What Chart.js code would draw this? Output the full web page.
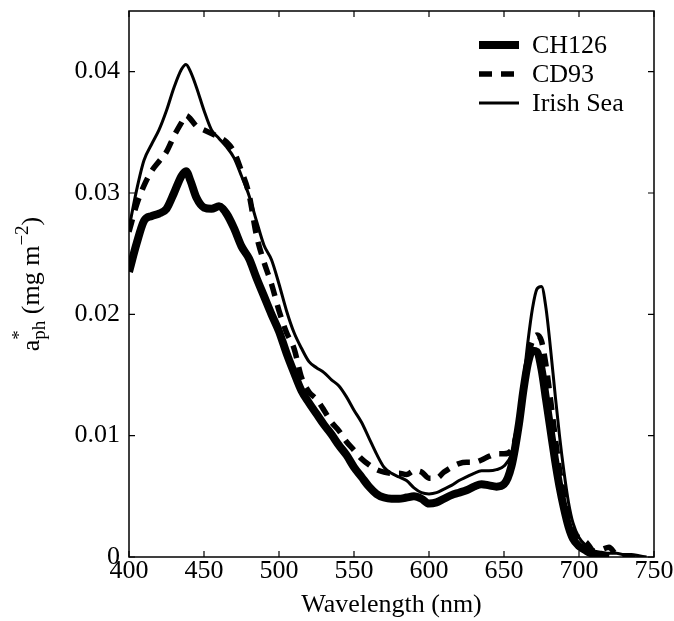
<!DOCTYPE html>
<html>
<head>
<meta charset="utf-8">
<script src="https://cdn.jsdelivr.net/npm/chart.js@4.4.1/dist/chart.umd.min.js"></script>
<style>
  html, body { margin: 0; padding: 0; background: #fff; }
</style>
</head>
<body>
<canvas id="myChart" width="674" height="621"></canvas>
<script>
// wavelength grid (nm) shared by the three spectra
const wavelengths = [400, 405, 410, 415, 420, 425, 430, 435, 438, 441, 445, 450, 455, 460, 465, 470, 475, 480, 485, 490,
    495, 500, 505, 510, 515, 520, 525, 530, 535, 540, 545, 550, 555, 560, 565, 570, 575, 580, 585, 590,
    595, 600, 605, 610, 615, 620, 625, 630, 635, 640, 645, 650, 655, 660, 663, 666, 669, 672, 675, 678,
    681, 684, 687, 690, 693, 696, 700, 705, 710, 715, 720, 725, 730, 735, 740, 745];

const ch126 = [0.0235, 0.0258, 0.0277, 0.0281, 0.0283, 0.0287, 0.0300, 0.0314, 0.0318, 0.0310, 0.0296, 0.0288, 0.0287, 0.0289, 0.0283, 0.0271, 0.0256, 0.0246, 0.0230, 0.0215,
    0.0200, 0.0186, 0.0168, 0.0152, 0.0137, 0.0127, 0.0118, 0.0109, 0.0101, 0.0092, 0.0084, 0.0074, 0.0066, 0.0058, 0.0052, 0.0049, 0.0048, 0.0048, 0.0049, 0.0050,
    0.0048, 0.0044, 0.0045, 0.0048, 0.0051, 0.0053, 0.0055, 0.0058, 0.0060, 0.0059, 0.0058, 0.0060, 0.0075, 0.0110, 0.0138, 0.0160, 0.0170, 0.0169, 0.0155, 0.0130,
    0.0105, 0.0080, 0.0058, 0.0040, 0.0025, 0.0015, 0.0009, 0.0005, 0.0002, 0.0001, 0.0, null, null, null, null, null];

const cd93 = [0.0268, 0.0290, 0.0306, 0.0318, 0.0326, 0.0334, 0.0347, 0.0358, 0.0364, 0.0361, 0.0355, 0.0352, 0.0349, 0.0346, 0.0342, 0.0334, 0.0318, 0.0299, 0.0265, 0.0243,
    0.0225, 0.0203, 0.0185, 0.0172, 0.0148, 0.0136, 0.0130, 0.0121, 0.0111, 0.0104, 0.0095, 0.0088, 0.0081, 0.0076, 0.0072, 0.0070, 0.0069, 0.0069, 0.0068, 0.0071,
    0.0070, 0.0065, 0.0065, 0.0070, 0.0074, 0.0077, 0.0078, 0.0078, 0.0080, 0.0083, 0.0085, 0.0085, 0.0088, 0.0112, 0.0140, 0.0165, 0.0178, 0.0183, 0.0178, 0.0158,
    0.0130, 0.0100, 0.0072, 0.0050, 0.0032, 0.0020, 0.0016, 0.0012, 0.0005, 0.0006, 0.0008, 0.0002, 0.0001, 0.0, 0.0, null];

const irishSea = [0.0271, 0.0302, 0.0327, 0.0340, 0.0352, 0.0368, 0.0387, 0.0402, 0.0406, 0.0400, 0.0387, 0.0368, 0.0352, 0.0345, 0.0338, 0.0329, 0.0314, 0.0298, 0.0277, 0.0257,
    0.0245, 0.0225, 0.0203, 0.0185, 0.0172, 0.0161, 0.0156, 0.0152, 0.0146, 0.0141, 0.0132, 0.0121, 0.0111, 0.0098, 0.0085, 0.0074, 0.0069, 0.0066, 0.0063, 0.0057,
    0.0053, 0.0052, 0.0053, 0.0056, 0.0059, 0.0063, 0.0066, 0.0069, 0.0071, 0.0071, 0.0072, 0.0075, 0.0085, 0.0115, 0.0145, 0.0178, 0.0205, 0.0221, 0.0223, 0.0205,
    0.0172, 0.0135, 0.0100, 0.0070, 0.0045, 0.0028, 0.0016, 0.0009, 0.0005, 0.0004, 0.0003, 0.0003, 0.0002, 0.0002, 0.0001, 0.0];

const seriesNames = ["CH126", "CD93", "Irish Sea"];
const xTicks = [400, 450, 500, 550, 600, 650, 700, 750];
const yTicks = [0, 0.01, 0.02, 0.03, 0.04];
const yTickLabels = ["0", "0.01", "0.02", "0.03", "0.04"];

const serif = '"Liberation Serif", "Times New Roman", serif';

function toPoints(values) {
    return values.map((v, i) => ({ x: wavelengths[i], y: v }));
}

// box around the plot with inward tick marks on all four sides
const framePlugin = {
    id: 'frame',
    afterDatasetsDraw(chart) {
        const { ctx, chartArea: a, scales } = chart;
        ctx.save();
        ctx.strokeStyle = '#000';
        ctx.lineWidth = 1.5;
        ctx.strokeRect(a.left, a.top, a.right - a.left, a.bottom - a.top);
        ctx.lineWidth = 1.2;
        ctx.beginPath();
        xTicks.forEach(v => {
            const px = scales.x.getPixelForValue(v);
            ctx.moveTo(px, a.bottom); ctx.lineTo(px, a.bottom - 6);
            ctx.moveTo(px, a.top); ctx.lineTo(px, a.top + 6);
        });
        yTicks.forEach(v => {
            const py = scales.y.getPixelForValue(v);
            ctx.moveTo(a.left, py); ctx.lineTo(a.left + 6, py);
            ctx.moveTo(a.right, py); ctx.lineTo(a.right - 6, py);
        });
        ctx.stroke();
        ctx.restore();
    }
};

// legend in the upper right corner of the plot
const legendPlugin = {
    id: 'innerLegend',
    afterDraw(chart) {
        const { ctx, chartArea: a } = chart;
        const x0 = a.right - 175, x1 = a.right - 135, tx = a.right - 122;
        ctx.save();
        ctx.font = '26px ' + serif;
        ctx.textBaseline = 'middle';
        ctx.fillStyle = '#000';
        chart.data.datasets.forEach((ds, i) => {
            const y = a.top + 34 + i * 29;
            ctx.strokeStyle = '#000';
            ctx.lineWidth = ds.borderWidth;
            ctx.setLineDash(ds.borderDash || []);
            ctx.beginPath();
            ctx.moveTo(x0, y);
            ctx.lineTo(x1, y);
            ctx.stroke();
            ctx.setLineDash([]);
            ctx.fillText(ds.label, tx, y + 1);
        });
        ctx.restore();
    }
};

// rotated y axis title with superscripts and subscript
const yTitlePlugin = {
    id: 'yTitle',
    afterDraw(chart) {
        const { ctx, chartArea: a } = chart;
        const parts = [
            { t: 'a', size: 26, dy: 0 },
            { t: '*', size: 19, dy: -14, stack: true },
            { t: 'ph', size: 19, dy: 6 },
            { t: ' (mg m', size: 26, dy: 0 },
            { t: '\u22122', size: 19, dy: -11 },
            { t: ')', size: 26, dy: 0 }
        ];
        ctx.save();
        let total = 0;
        parts.forEach(p => {
            ctx.font = p.size + 'px ' + serif;
            p.w = ctx.measureText(p.t).width;
            if (!p.stack) total += p.w;
        });
        ctx.translate(39, (a.top + a.bottom) / 2);
        ctx.rotate(-Math.PI / 2);
        ctx.fillStyle = '#000';
        ctx.textBaseline = 'alphabetic';
        let x = -total / 2;
        parts.forEach(p => {
            ctx.font = p.size + 'px ' + serif;
            ctx.fillText(p.t, x, p.dy);
            if (!p.stack) x += p.w;
        });
        ctx.restore();
    }
};

const ctx = document.getElementById('myChart').getContext('2d');
const myChart = new Chart(ctx, {
    type: 'line',
    data: {
        datasets: [
            { label: seriesNames[0], data: toPoints(ch126), borderColor: '#000', borderWidth: 8 },
            { label: seriesNames[1], data: toPoints(cd93), borderColor: '#000', borderWidth: 5.5, borderDash: [13, 9] },
            { label: seriesNames[2], data: toPoints(irishSea), borderColor: '#000', borderWidth: 3 }
        ]
    },
    options: {
        responsive: false,
        animation: false,
        devicePixelRatio: 1,
        elements: {
            point: { radius: 0 },
            line: { cubicInterpolationMode: 'monotone', borderJoinStyle: 'round', borderCapStyle: 'butt' }
        },
        layout: { padding: { top: 11, right: 20, left: 0, bottom: 0 } },
        plugins: {
            legend: { display: false },
            tooltip: { enabled: false }
        },
        scales: {
            x: {
                type: 'linear',
                min: 400,
                max: 750,
                afterBuildTicks: scale => { scale.ticks = xTicks.map(v => ({ value: v })); },
                afterFit: scale => { scale.height = 64; scale.paddingLeft = 0; scale.paddingRight = 0; },
                grid: { display: false, drawTicks: false },
                border: { display: false },
                ticks: { color: '#000', font: { family: serif, size: 26 }, padding: -1, maxRotation: 0 },
                title: { display: true, text: 'Wavelength (nm)', color: '#000', font: { family: serif, size: 26 }, padding: { top: 0, bottom: 0 } }
            },
            y: {
                type: 'linear',
                min: 0,
                max: 0.045,
                afterBuildTicks: scale => { scale.ticks = yTicks.map(v => ({ value: v })); },
                afterFit: scale => { scale.width = 129; scale.paddingTop = 0; scale.paddingBottom = 0; },
                grid: { display: false, drawTicks: false },
                border: { display: false },
                ticks: {
                    color: '#000',
                    font: { family: serif, size: 26 },
                    padding: 9,
                    callback: (value, index) => yTickLabels[index]
                }
            }
        }
    },
    plugins: [framePlugin, legendPlugin, yTitlePlugin]
});
</script>
</body>
</html>
